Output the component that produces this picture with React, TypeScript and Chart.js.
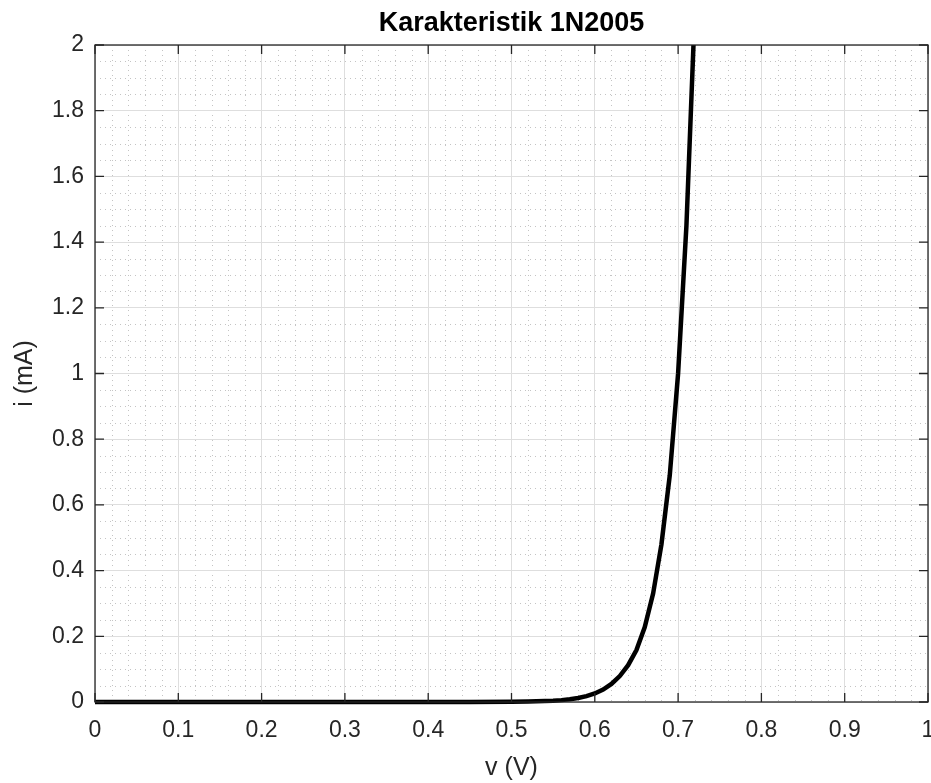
import React, { useEffect, useRef } from "react";
import { Chart, registerables } from "chart.js";

Chart.register(...registerables);

const TITLE = "Karakteristik 1N2005";
const X_LABEL = "v (V)";
const Y_LABEL = "i (mA)";

// diode voltage (V) and current (mA)
const voltage = [0, 0.1, 0.2, 0.3, 0.4, 0.45, 0.5, 0.52, 0.54, 0.55, 0.56, 0.57, 0.58, 0.59, 0.6, 0.61, 0.62, 0.63, 0.64, 0.65, 0.66, 0.67, 0.68, 0.69, 0.7, 0.71, 0.72];
const current = [0, 0, 0, 0, 0.0001, 0.0003, 0.0007, 0.0013, 0.0027, 0.0039, 0.0057, 0.0083, 0.012, 0.018, 0.026, 0.038, 0.055, 0.079, 0.112, 0.158, 0.228, 0.33, 0.48, 0.69, 1.0, 1.45, 2.1];

const xTicks = [0, 0.1, 0.2, 0.3, 0.4, 0.5, 0.6, 0.7, 0.8, 0.9, 1];
const yTicks = [0, 0.2, 0.4, 0.6, 0.8, 1, 1.2, 1.4, 1.6, 1.8, 2];
const xMinorTicks = [0.02, 0.04, 0.06, 0.08, 0.12, 0.14, 0.16, 0.18, 0.22, 0.24, 0.26, 0.28, 0.32, 0.34, 0.36, 0.38, 0.42, 0.44, 0.46, 0.48, 0.52, 0.54, 0.56, 0.58, 0.62, 0.64, 0.66, 0.68, 0.72, 0.74, 0.76, 0.78, 0.82, 0.84, 0.86, 0.88, 0.92, 0.94, 0.96, 0.98];
const yMinorTicks = [0.05, 0.1, 0.15, 0.25, 0.3, 0.35, 0.45, 0.5, 0.55, 0.65, 0.7, 0.75, 0.85, 0.9, 0.95, 1.05, 1.1, 1.15, 1.25, 1.3, 1.35, 1.45, 1.5, 1.55, 1.65, 1.7, 1.75, 1.85, 1.9, 1.95];

const AXIS_COLOR = "#262626";
const FONT = "'Liberation Sans', Arial, Helvetica, sans-serif";

const fmt = (v: number) => String(+v.toFixed(2));

const matlabAxes = {
  id: "matlabAxes",
  beforeDraw(chart: any) {
    const { ctx, chartArea: a, scales } = chart;
    const xs = scales.x, ys = scales.y;
    ctx.save();
    ctx.strokeStyle = "#c4c4c4";
    ctx.lineWidth = 1;
    ctx.setLineDash([1, 4]);
    for (const v of xMinorTicks) {
      const px = Math.round(xs.getPixelForValue(v)) + 0.5;
      ctx.beginPath();
      ctx.moveTo(px, a.top);
      ctx.lineTo(px, a.bottom);
      ctx.stroke();
    }
    for (const v of yMinorTicks) {
      const py = Math.round(ys.getPixelForValue(v)) + 0.5;
      ctx.beginPath();
      ctx.moveTo(a.left, py);
      ctx.lineTo(a.right, py);
      ctx.stroke();
    }
    ctx.restore();
  },
  afterDraw(chart: any) {
    const { ctx, chartArea: a, scales } = chart;
    const xs = scales.x, ys = scales.y;
    const tl = 9;
    ctx.save();
    ctx.strokeStyle = AXIS_COLOR;
    ctx.lineWidth = 1.3;
    ctx.setLineDash([]);
    ctx.strokeRect(a.left, a.top, a.right - a.left, a.bottom - a.top);
    ctx.beginPath();
    for (const v of xTicks) {
      const px = xs.getPixelForValue(v);
      ctx.moveTo(px, a.bottom);
      ctx.lineTo(px, a.bottom - tl);
      ctx.moveTo(px, a.top);
      ctx.lineTo(px, a.top + tl);
    }
    for (const v of yTicks) {
      const py = ys.getPixelForValue(v);
      ctx.moveTo(a.left, py);
      ctx.lineTo(a.left + tl, py);
      ctx.moveTo(a.right, py);
      ctx.lineTo(a.right - tl, py);
    }
    ctx.stroke();
    ctx.restore();
  },
};

export default function App() {
  const ref = useRef<HTMLCanvasElement | null>(null);

  useEffect(() => {
    if (!ref.current) return;
    const points = voltage.map((v, i) => ({ x: v, y: current[i] }));
    const chart = new Chart(ref.current, {
      type: "line",
      data: {
        datasets: [
          {
            data: points,
            borderColor: "#000000",
            borderWidth: 4.5,
            pointRadius: 0,
            tension: 0,
            fill: false,
            clip: { left: 5, right: 5, top: 0, bottom: 5 } as any,
          },
        ],
      },
      options: {
        animation: false,
        responsive: false,
        maintainAspectRatio: false,
        layout: { padding: { left: 0, right: 3, top: 0, bottom: 0 } },
        plugins: {
          legend: { display: false },
          tooltip: { enabled: false },
          title: {
            display: true,
            fullSize: false,
            text: TITLE,
            color: "#000000",
            font: { family: FONT, size: 27, weight: "bold", lineHeight: 1.2 },
            padding: { top: 7, bottom: 5.6 },
          },
        },
        scales: {
          x: {
            type: "linear",
            min: 0,
            max: 1,
            afterBuildTicks: (s: any) => {
              s.ticks = xTicks.map((v) => ({ value: v }));
            },
            afterFit: (s: any) => {
              s.height = 81;
              s.paddingLeft = 0;
              s.paddingRight = 0;
            },
            ticks: {
              color: AXIS_COLOR,
              font: { family: FONT, size: 23 },
              padding: 15,
              maxRotation: 0,
              autoSkip: false,
              callback: (v: any) => fmt(Number(v)),
            },
            grid: { color: "#dedede", lineWidth: 1, drawTicks: false },
            border: { display: false },
            title: {
              display: true,
              text: X_LABEL,
              color: AXIS_COLOR,
              font: { family: FONT, size: 25, lineHeight: 1.2 },
              padding: { top: 0, bottom: 0 },
            },
          },
          y: {
            type: "linear",
            min: 0,
            max: 2,
            afterBuildTicks: (s: any) => {
              s.ticks = yTicks.map((v) => ({ value: v }));
            },
            afterFit: (s: any) => {
              s.width = 95;
              s.paddingTop = 0;
              s.paddingBottom = 0;
            },
            ticks: {
              color: AXIS_COLOR,
              font: { family: FONT, size: 23 },
              padding: 11,
              autoSkip: false,
              callback: (v: any) => fmt(Number(v)),
            },
            grid: { color: "#dedede", lineWidth: 1, drawTicks: false },
            border: { display: false },
            title: {
              display: true,
              text: Y_LABEL,
              color: AXIS_COLOR,
              font: { family: FONT, size: 25, lineHeight: 1.2 },
              padding: { top: 10, bottom: 0 },
            },
          },
        },
      },
      plugins: [matlabAxes],
    });
    return () => chart.destroy();
  }, []);

  return (
    <div style={{ position: "fixed", left: 0, top: 0, width: 931, height: 783, background: "#ffffff" }}>
      <canvas ref={ref} width={931} height={783} style={{ display: "block", width: 931, height: 783 }} />
    </div>
  );
}
